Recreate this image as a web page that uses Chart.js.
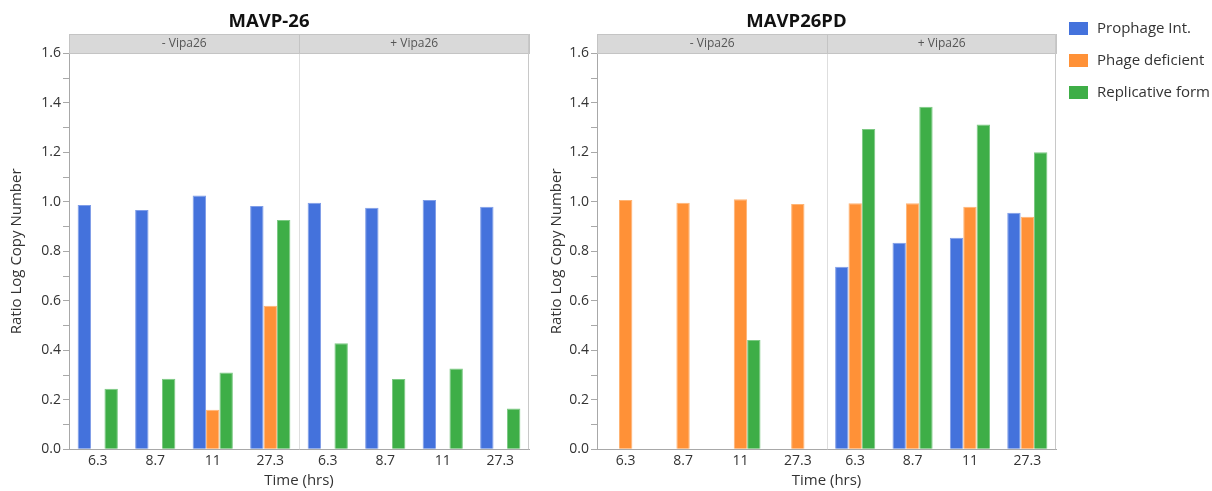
<!DOCTYPE html>
<html><head><meta charset="utf-8">
<script src="https://cdn.jsdelivr.net/npm/chart.js@4.4.1/dist/chart.umd.min.js"></script>
<style>
html,body{margin:0;padding:0;background:#fff;overflow:hidden;width:1212px;height:491px}
#c1{position:absolute;left:0;top:0}
#c2{position:absolute;left:540px;top:0}
</style></head><body>
<canvas id="c1" width="540" height="491"></canvas>
<canvas id="c2" width="672" height="491"></canvas>
<script>
// ---- data ----
const timeLabels = ['6.3','8.7','11','27.3','6.3','8.7','11','27.3'];
const panelLabels = ['- Vipa26','+ Vipa26'];
const chartTitles = ['MAVP-26','MAVP26PD'];
const seriesNames = ['Prophage Int.','Phage deficient','Replicative form'];
const seriesColors = ['#4472DC','#FF9137','#3EAE47'];
const seriesEdges = ['#7F9DE8','#FFB474','#7CC983'];
const yMin = 0, yMax = 1.6, yStep = 0.1;

const mavp26Prophage    = [0.987,0.967,1.025,0.983,0.996,0.976,1.007,0.980];
const mavp26Deficient   = [null,null,0.160,0.580,null,null,null,null];
const mavp26Replicative = [0.245,0.285,0.310,0.926,0.428,0.284,0.326,0.165];

const pdProphage    = [null,null,null,null,0.738,0.835,0.855,0.956];
const pdDeficient   = [1.007,0.996,1.010,0.991,0.994,0.994,0.980,0.940];
const pdReplicative = [null,null,0.442,null,1.294,1.384,1.312,1.200];

const FONT = "'Open Sans', 'Noto Sans', sans-serif";

const panelPlugin = {
  id: 'panels',
  beforeDatasetsDraw(chart, args, o) {
    const {ctx, chartArea: a, scales: {x}} = chart;
    const mid = Math.round((x.getPixelForTick(3) + x.getPixelForTick(4)) / 2) + 0.5;
    ctx.save();
    ctx.strokeStyle = '#dedede'; ctx.lineWidth = 1;
    ctx.beginPath(); ctx.moveTo(mid, a.top); ctx.lineTo(mid, a.bottom); ctx.stroke();
    ctx.restore();
  },
  afterDraw(chart, args, o) {
    const {ctx, chartArea: a, scales: {x}} = chart;
    const mid = Math.round((x.getPixelForTick(3) + x.getPixelForTick(4)) / 2) + 0.5;
    const hTop = 34, hBot = Math.round(a.top);
    ctx.save();
    // header strip
    ctx.fillStyle = '#d9d9d9';
    ctx.fillRect(a.left + 1, hTop, a.right - a.left - 1, hBot - hTop);
    ctx.strokeStyle = '#c4c4c4'; ctx.lineWidth = 1;
    ctx.strokeRect(Math.round(a.left) + 0.5, hTop + 0.5, Math.round(a.right - a.left), hBot - hTop);
    ctx.beginPath(); ctx.moveTo(mid, hTop); ctx.lineTo(mid, hBot); ctx.stroke();
    // right frame
    ctx.strokeStyle = '#c8c8c8';
    ctx.beginPath(); ctx.moveTo(Math.round(a.right) - 0.5, hTop); ctx.lineTo(Math.round(a.right) - 0.5, a.bottom); ctx.stroke();
    // header labels
    ctx.fillStyle = '#555'; ctx.font = "12px " + FONT;
    ctx.textAlign = 'center'; ctx.textBaseline = 'middle';
    ctx.fillText(panelLabels[0], (a.left + mid) / 2, (hTop + hBot) / 2);
    ctx.fillText(panelLabels[1], (mid + a.right) / 2, (hTop + hBot) / 2);
    // title
    ctx.fillStyle = '#111'; ctx.font = "bold 18.5px " + FONT;
    ctx.fillText(o.title, (a.left + a.right) / 2 - 30, 22);
    // legend
    if (o.legend) {
      ctx.textAlign = 'left';
      ctx.font = "15px " + FONT;
      chart.data.datasets.forEach((ds, i) => {
        const y = 22 + i * 32;
        ctx.fillStyle = ds.backgroundColor;
        ctx.fillRect(o.legendX, y, 19, 13);
        ctx.fillStyle = '#333';
        ctx.fillText(ds.label, o.legendX + 28, y + 6.5);
      });
    }
    ctx.restore();
  }
};

function makeChart(id, series, title, yWidth, padRight, legend) {
  return new Chart(document.getElementById(id), {
    type: 'bar',
    data: {
      labels: timeLabels,
      datasets: series.map((d, i) => ({
        label: seriesNames[i],
        data: d,
        backgroundColor: seriesColors[i],
        borderColor: seriesEdges[i],
        borderWidth: 1,
        categoryPercentage: 0.7,
        barPercentage: 1.0
      }))
    },
    options: {
      responsive: false,
      animation: false,
      layout: { padding: { left: 0, right: padRight, top: 53.3, bottom: 0 } },
      plugins: {
        legend: { display: false },
        tooltip: { enabled: false },
        title: { display: false },
        panels: { title: title, legend: legend, legendX: 529 }
      },
      scales: {
        x: {
          grid: { display: false, drawTicks: false },
          border: { display: true, color: '#a8a8a8', width: 1 },
          ticks: { color: '#333', font: { size: 14, family: FONT }, padding: 3, maxRotation: 0, autoSkip: false },
          title: { display: true, text: 'Time (hrs)', color: '#333', font: { size: 15, family: FONT }, padding: { top: 0, bottom: 1 } },
          afterFit(s) { s.height = 41.7; }
        },
        y: {
          min: yMin, max: yMax,
          grid: { drawOnChartArea: false, drawTicks: true, tickLength: 6, tickColor: '#a8a8a8' },
          border: { display: true, color: '#a8a8a8', width: 1 },
          ticks: {
            stepSize: yStep, autoSkip: false, color: '#333', padding: 2,
            font: { size: 14, family: FONT },
            callback: (v, i) => (i % 2 === 0 ? Number(v).toFixed(1) : '')
          },
          title: { display: true, text: 'Ratio Log Copy Number', color: '#333', font: { size: 15, family: FONT }, padding: { top: 8, bottom: 0 } },
          afterFit(s) { s.width = yWidth; }
        }
      }
    },
    plugins: [panelPlugin]
  });
}

makeChart('c1', [mavp26Prophage, mavp26Deficient, mavp26Replicative], chartTitles[0], 69, 11, false);
makeChart('c2', [pdProphage, pdDeficient, pdReplicative], chartTitles[1], 57, 156, true);
</script>
</body></html>
